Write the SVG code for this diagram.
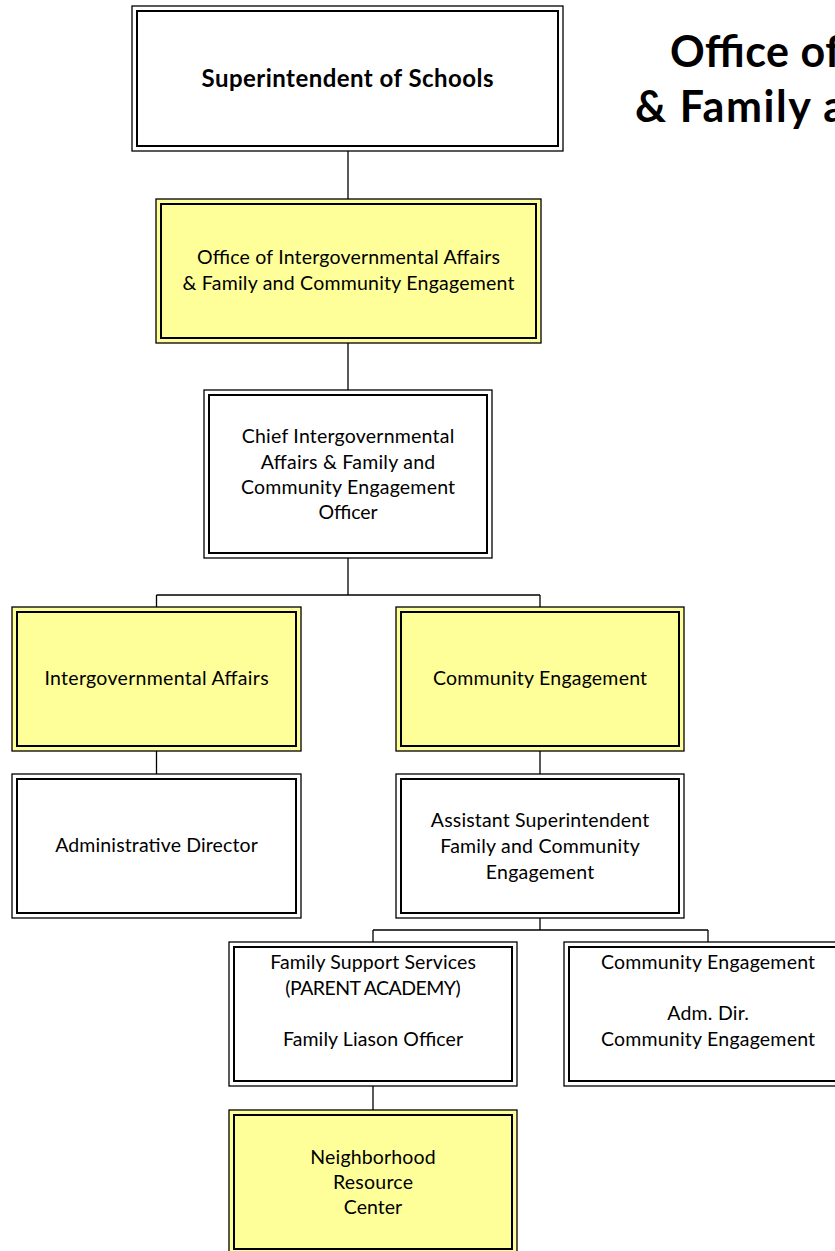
<svg xmlns="http://www.w3.org/2000/svg" width="835" height="1251" viewBox="0 0 835 1251">
  <style>
    .outer { fill: #ffffff; stroke: #000000; stroke-width: 1.3; }
    .inner { fill: none; stroke: #000000; stroke-width: 2; }
    .hl .outer { fill: #ffff99; }
    .lbl { font-family: Lato, "Liberation Sans", sans-serif; font-size: 19.5px; fill: #000000; text-anchor: middle; }
    .lbl-b { font-family: Lato, "Liberation Sans", sans-serif; font-size: 24px; font-weight: bold; fill: #000000; text-anchor: middle; }
    .title { font-family: Lato, "Liberation Sans", sans-serif; font-size: 43px; font-weight: bold; fill: #000000; }
    .conn line { stroke: #000000; stroke-width: 1.3; }
  </style>

  <!-- heading, runs off the right edge -->
  <g id="heading">
    <text class="title" x="670" y="67" textLength="170.6">Office of</text>
    <text class="title" x="635" y="122" textLength="210.2">&amp; Family a</text>
  </g>

  <!-- connectors -->
  <g id="connectors" class="conn">
    <line x1="348" y1="151" x2="348" y2="199"/>
    <line x1="348" y1="343" x2="348" y2="390"/>
    <line x1="348" y1="558" x2="348" y2="595"/>
    <line x1="156.5" y1="595" x2="540" y2="595"/>
    <line x1="156.5" y1="595" x2="156.5" y2="607"/>
    <line x1="540" y1="595" x2="540" y2="607"/>
    <line x1="156.5" y1="751" x2="156.5" y2="774"/>
    <line x1="540" y1="751" x2="540" y2="774"/>
    <line x1="540" y1="918" x2="540" y2="930"/>
    <line x1="373" y1="930" x2="708" y2="930"/>
    <line x1="373" y1="930" x2="373" y2="942"/>
    <line x1="708" y1="930" x2="708" y2="942"/>
    <line x1="373" y1="1086" x2="373" y2="1110"/>
  </g>

  <g id="superintendent">
    <rect class="outer" x="132" y="6" width="431" height="145"/>
    <rect class="inner" x="137" y="11" width="421" height="135"/>
    <text class="lbl-b" x="347.5" y="87" textLength="292">Superintendent of Schools</text>
  </g>

  <g id="office" class="hl">
    <rect class="outer" x="156" y="199" width="385" height="144"/>
    <rect class="inner" x="161" y="204" width="375" height="134"/>
    <text class="lbl" x="348.5" y="264" textLength="303">Office of Intergovernmental Affairs</text>
    <text class="lbl" x="348.5" y="290" textLength="332">&amp; Family and Community Engagement</text>
  </g>

  <g id="chief-officer">
    <rect class="outer" x="204" y="390" width="288" height="168"/>
    <rect class="inner" x="209" y="395" width="278" height="158"/>
    <text class="lbl" x="348" y="443" textLength="212.5">Chief Intergovernmental</text>
    <text class="lbl" x="348" y="469" textLength="174.4">Affairs &amp; Family and</text>
    <text class="lbl" x="348" y="494" textLength="214.2">Community Engagement</text>
    <text class="lbl" x="348" y="519" textLength="59.1">Officer</text>
  </g>

  <g id="intergovernmental-affairs" class="hl">
    <rect class="outer" x="12" y="607" width="289" height="144"/>
    <rect class="inner" x="17" y="612" width="279" height="134"/>
    <text class="lbl" x="156.5" y="685" textLength="224.2">Intergovernmental Affairs</text>
  </g>

  <g id="community-engagement" class="hl">
    <rect class="outer" x="396" y="607" width="288" height="144"/>
    <rect class="inner" x="401" y="612" width="278" height="134"/>
    <text class="lbl" x="540" y="685" textLength="214.2">Community Engagement</text>
  </g>

  <g id="administrative-director">
    <rect class="outer" x="12" y="774" width="289" height="144"/>
    <rect class="inner" x="17" y="779" width="279" height="134"/>
    <text class="lbl" x="156.5" y="852" textLength="202.7">Administrative Director</text>
  </g>

  <g id="assistant-superintendent">
    <rect class="outer" x="396" y="774" width="288" height="144"/>
    <rect class="inner" x="401" y="779" width="278" height="134"/>
    <text class="lbl" x="540" y="827" textLength="218.3">Assistant Superintendent</text>
    <text class="lbl" x="540" y="853" textLength="199.5">Family and Community</text>
    <text class="lbl" x="540" y="879" textLength="108.5">Engagement</text>
  </g>

  <g id="family-support">
    <rect class="outer" x="229" y="942" width="288" height="144"/>
    <rect class="inner" x="234" y="947" width="278" height="134"/>
    <text class="lbl" x="373" y="969" textLength="205.7">Family Support Services</text>
    <text class="lbl" x="373" y="995" textLength="175.5">(PARENT ACADEMY)</text>
    <text class="lbl" x="373" y="1046" textLength="180.1">Family Liason Officer</text>
  </g>

  <g id="community-engagement-director">
    <rect class="outer" x="564" y="942" width="288" height="144"/>
    <rect class="inner" x="569" y="947" width="278" height="134"/>
    <text class="lbl" x="708" y="969" textLength="214.2">Community Engagement</text>
    <text class="lbl" x="708" y="1020" textLength="81.6">Adm. Dir.</text>
    <text class="lbl" x="708" y="1046" textLength="214.2">Community Engagement</text>
  </g>

  <g id="resource-center" class="hl">
    <rect class="outer" x="229" y="1110" width="288" height="144"/>
    <rect class="inner" x="234" y="1115" width="278" height="134"/>
    <text class="lbl" x="373" y="1164" textLength="125.3">Neighborhood</text>
    <text class="lbl" x="373" y="1189" textLength="80.1">Resource</text>
    <text class="lbl" x="373" y="1214" textLength="58.4">Center</text>
  </g>
</svg>
